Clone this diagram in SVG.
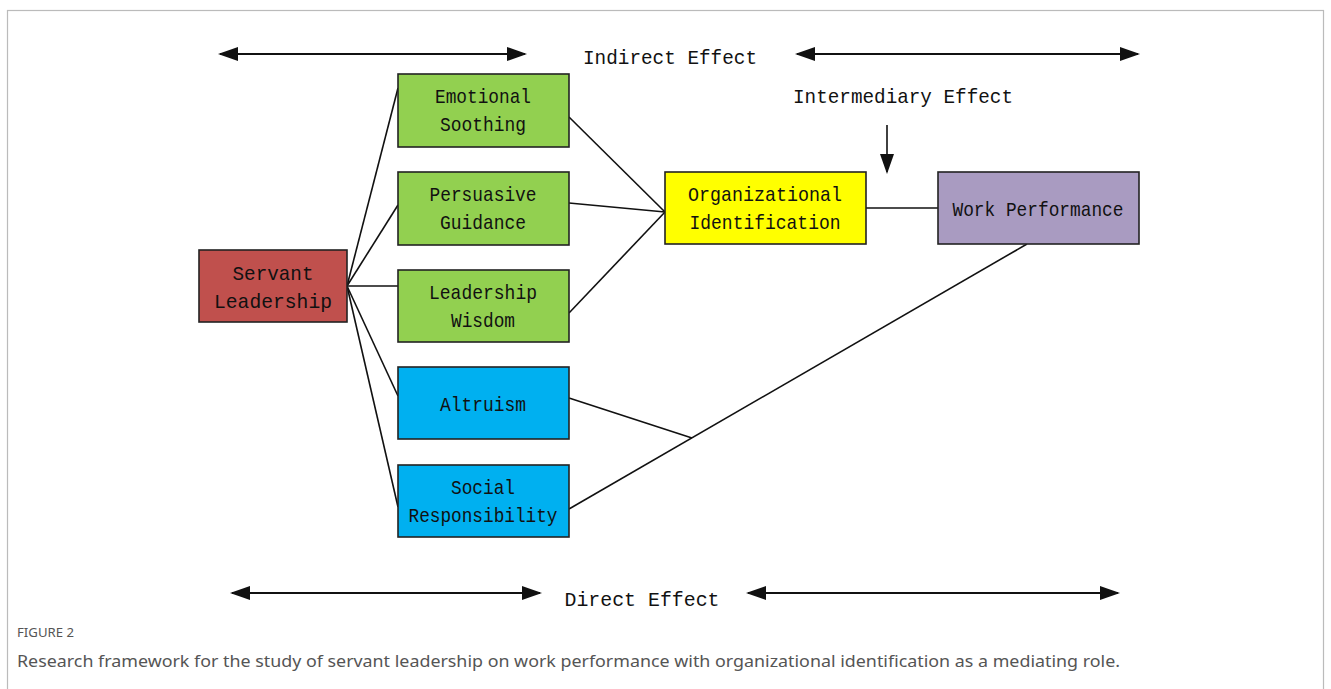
<svg xmlns="http://www.w3.org/2000/svg" width="1331" height="689" viewBox="0 0 1331 689">
<defs>
<style>
.box{stroke:#222;stroke-width:1.6}
.t{font-family:"Liberation Mono",monospace;font-size:21px;fill:#111;text-anchor:middle}
.c{stroke:#111;stroke-width:1.6;fill:none}
.a{stroke:#111;stroke-width:2.2;fill:none}
.cap{font-family:"Noto Sans",sans-serif;fill:#555}
</style>
<marker id="ah" viewBox="0 0 20 14" refX="18" refY="7" markerWidth="20" markerHeight="14" markerUnits="userSpaceOnUse" orient="auto-start-reverse">
<path d="M0,0 L20,7 L0,14 Z" fill="#111"/>
</marker>
</defs>
<rect x="0" y="0" width="1331" height="689" fill="#fff"/>
<rect x="7.5" y="10.5" width="1316" height="700" fill="none" stroke="#bbb" stroke-width="1.2"/>

<g id="connectors">
<line class="c" x1="347" y1="286" x2="398" y2="88"/>
<line class="c" x1="347" y1="286" x2="398" y2="205"/>
<line class="c" x1="347" y1="286" x2="398" y2="286"/>
<line class="c" x1="347" y1="286" x2="398" y2="396"/>
<line class="c" x1="347" y1="286" x2="398" y2="507"/>
<line class="c" x1="569" y1="117" x2="665" y2="212"/>
<line class="c" x1="569" y1="203" x2="665" y2="212"/>
<line class="c" x1="569" y1="313" x2="665" y2="212"/>
<line class="c" x1="866" y1="208" x2="938" y2="208"/>
<line class="c" x1="569" y1="398" x2="692" y2="438"/>
<line class="c" x1="569" y1="509" x2="1027" y2="244"/>
<line class="c" x1="887" y1="125" x2="887" y2="172" marker-end="url(#ah)"/>
<line class="a" x1="220" y1="54" x2="525" y2="54" marker-start="url(#ah)" marker-end="url(#ah)"/>
<line class="a" x1="797" y1="54" x2="1138" y2="54" marker-start="url(#ah)" marker-end="url(#ah)"/>
<line class="a" x1="232" y1="593" x2="540" y2="593" marker-start="url(#ah)" marker-end="url(#ah)"/>
<line class="a" x1="748" y1="593" x2="1118" y2="593" marker-start="url(#ah)" marker-end="url(#ah)"/>
</g>

<g id="labels">
<text class="t" x="670" y="64" textLength="174" lengthAdjust="spacingAndGlyphs">Indirect Effect</text>
<text class="t" x="903" y="103" textLength="220" lengthAdjust="spacingAndGlyphs">Intermediary Effect</text>
<text class="t" x="642" y="606" textLength="155" lengthAdjust="spacingAndGlyphs">Direct Effect</text>
</g>

<g id="servant-leadership">
<rect class="box" x="199" y="250" width="148" height="72" fill="#C0504D"/>
<text class="t" x="273" y="280" font-size="23" textLength="81" lengthAdjust="spacingAndGlyphs">Servant</text>
<text class="t" x="273" y="308" font-size="23" textLength="118" lengthAdjust="spacingAndGlyphs">Leadership</text>
</g>
<g id="emotional-soothing">
<rect class="box" x="398" y="74" width="171" height="73" fill="#92D050"/>
<text class="t" x="483" y="103" textLength="96" lengthAdjust="spacingAndGlyphs">Emotional</text>
<text class="t" x="483" y="131" textLength="86" lengthAdjust="spacingAndGlyphs">Soothing</text>
</g>
<g id="persuasive-guidance">
<rect class="box" x="398" y="172" width="171" height="73" fill="#92D050"/>
<text class="t" x="483" y="201" textLength="107" lengthAdjust="spacingAndGlyphs">Persuasive</text>
<text class="t" x="483" y="229" textLength="86" lengthAdjust="spacingAndGlyphs">Guidance</text>
</g>
<g id="leadership-wisdom">
<rect class="box" x="398" y="270" width="171" height="72" fill="#92D050"/>
<text class="t" x="483" y="299" textLength="108" lengthAdjust="spacingAndGlyphs">Leadership</text>
<text class="t" x="483" y="327" textLength="64" lengthAdjust="spacingAndGlyphs">Wisdom</text>
</g>
<g id="altruism">
<rect class="box" x="398" y="367" width="171" height="72" fill="#00B0F0"/>
<text class="t" x="483" y="411" textLength="86" lengthAdjust="spacingAndGlyphs">Altruism</text>
</g>
<g id="social-responsibility">
<rect class="box" x="398" y="465" width="171" height="72" fill="#00B0F0"/>
<text class="t" x="483" y="494" textLength="64" lengthAdjust="spacingAndGlyphs">Social</text>
<text class="t" x="483" y="522" textLength="149" lengthAdjust="spacingAndGlyphs">Responsibility</text>
</g>
<g id="organizational-identification">
<rect class="box" x="665" y="172" width="201" height="72" fill="#FFFF00"/>
<text class="t" x="765" y="201" textLength="154" lengthAdjust="spacingAndGlyphs">Organizational</text>
<text class="t" x="765" y="229" textLength="151" lengthAdjust="spacingAndGlyphs">Identification</text>
</g>
<g id="work-performance">
<rect class="box" x="938" y="172" width="201" height="72" fill="#A99BC1"/>
<text class="t" x="1038" y="216" textLength="171" lengthAdjust="spacingAndGlyphs">Work Performance</text>
</g>

<g id="caption">
<text class="cap" x="17" y="637" font-size="13" textLength="57" lengthAdjust="spacingAndGlyphs">FIGURE 2</text>
<text class="cap" x="17" y="667" font-size="17" textLength="1103" lengthAdjust="spacingAndGlyphs">Research framework for the study of servant leadership on work performance with organizational identification as a mediating role.</text>
</g>
</svg>
